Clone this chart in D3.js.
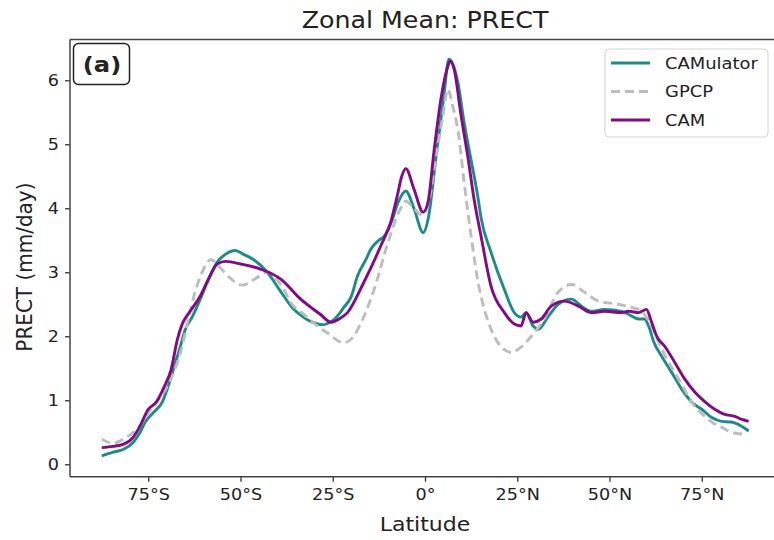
<!DOCTYPE html>
<html>
<head>
<meta charset="utf-8">
<script src="https://cdn.jsdelivr.net/npm/d3@7"></script>
<style>
  body { margin: 0; background: #fff; }
  text { font-family: "DejaVu Sans", sans-serif; fill: #222; }
</style>
</head>
<body>
<svg width="774" height="540"></svg>
<script>
// Zonal mean precipitation, [latitude, mm/day]
const camulator = [[-87.6,0.13],[-84.5,0.19],[-81.8,0.23],[-79.1,0.34],[-77.2,0.5],[-75.8,0.66],[-73.6,0.81],[-71.2,0.97],[-69.6,1.22],[-68.2,1.48],[-66.3,1.84],[-65,2.1],[-63,2.31],[-60.9,2.58],[-58.7,2.89],[-56.3,3.16],[-54.1,3.28],[-51.4,3.34],[-49.2,3.28],[-46.5,3.2],[-42.7,3.0],[-39,2.69],[-36,2.45],[-33,2.3],[-30.5,2.22],[-28,2.18],[-26.4,2.2],[-24.5,2.27],[-22,2.45],[-20,2.62],[-18.3,2.94],[-16,3.2],[-14.7,3.36],[-12.5,3.5],[-11.1,3.56],[-9,3.8],[-7.3,4.09],[-5.2,4.27],[-3,4.0],[-0.5,3.62],[1,3.88],[3,4.81],[5,5.7],[6.5,6.33],[8.9,5.97],[10.6,5.34],[12.5,4.75],[14.4,4.15],[15.2,3.85],[17.9,3.31],[21.5,2.73],[24.2,2.37],[26,2.3],[27.4,2.37],[29.3,2.16],[30.7,2.11],[33.4,2.31],[36.1,2.5],[39.7,2.58],[42.4,2.47],[45.1,2.39],[48.6,2.42],[53.3,2.39],[55.2,2.34],[57.9,2.27],[59.5,2.27],[60.6,2.16],[62,1.91],[64.1,1.69],[66.8,1.44],[69.6,1.17],[72.3,0.97],[75,0.86],[77.7,0.73],[80.4,0.67],[83,0.66],[85.9,0.59],[87.7,0.52]];

const gpcp = [[-87.6,0.39],[-84.5,0.33],[-81,0.42],[-79,0.5],[-77,0.62],[-75,0.8],[-72.5,1.0],[-70,1.2],[-68,1.45],[-66,1.8],[-64,2.3],[-62,2.75],[-60,3.05],[-58,3.2],[-56,3.1],[-53,2.92],[-49.5,2.8],[-46,2.9],[-42.7,3.0],[-39,2.8],[-36,2.5],[-33,2.35],[-30,2.2],[-26.4,2.05],[-22,1.9],[-19.3,2.0],[-17.4,2.2],[-13.8,2.73],[-10,3.47],[-7,3.95],[-5.2,4.11],[-3,4.0],[-1,3.9],[1,4.1],[3,4.8],[5,5.5],[6.2,5.86],[7.5,5.6],[9,5.19],[10.6,4.41],[12.5,3.56],[14.4,2.84],[15.5,2.55],[17.9,2.11],[20.7,1.83],[23.4,1.75],[26,1.83],[28.8,2.0],[32.3,2.27],[36.1,2.69],[39.7,2.81],[43.2,2.69],[47,2.55],[52.4,2.5],[56,2.45],[58.7,2.39],[61,2.2],[63,1.95],[65,1.7],[68,1.4],[70,1.2],[72.5,0.95],[75.8,0.75],[78,0.65],[80.4,0.58],[83,0.5],[86.7,0.47]];

const cam = [[-87.6,0.26],[-84.5,0.28],[-81.8,0.31],[-79.1,0.42],[-77.2,0.6],[-75,0.86],[-72.8,0.97],[-70.6,1.22],[-68.8,1.48],[-67.1,1.95],[-65.8,2.19],[-63.9,2.37],[-60.9,2.63],[-58.7,2.89],[-56.3,3.13],[-54,3.17],[-50,3.13],[-44.6,3.05],[-39,2.89],[-33.7,2.58],[-28.3,2.34],[-25.5,2.22],[-23,2.28],[-21,2.37],[-16.6,2.84],[-12,3.41],[-9.2,3.8],[-7.5,4.2],[-6.3,4.5],[-5.2,4.62],[-3,4.3],[-0.5,3.94],[0.8,4.09],[2.5,4.92],[4.3,5.7],[6.2,6.22],[6.8,6.3],[7.9,6.17],[9.8,5.44],[11.7,4.77],[13.3,4.14],[15.2,3.56],[17.9,2.78],[21.5,2.37],[24.2,2.19],[26,2.16],[27.4,2.37],[29.3,2.22],[31.5,2.27],[34.2,2.47],[37.8,2.55],[41.6,2.47],[45.1,2.37],[48.6,2.39],[53.3,2.37],[55.2,2.39],[57.9,2.37],[60,2.42],[61.4,2.22],[62.8,2.0],[65,1.84],[67.7,1.59],[70.4,1.33],[73.1,1.13],[75.8,0.98],[78.5,0.86],[81.2,0.78],[84,0.75],[85.9,0.7],[87.7,0.67]];

const seriesNames = ["CAMulator", "GPCP", "CAM"];
const xTicks = [-75, -50, -25, 0, 25, 50, 75];
const xTickLabels = ["75°S", "50°S", "25°S", "0°", "25°N", "50°N", "75°N"];
const yTicks = [0, 1, 2, 3, 4, 5, 6];

const svg = d3.select("svg");

// axes box (right side runs past the picture edge, as in the original)
const plotLeft = 70, plotRight = 780, plotTop = 39.5, plotBottom = 476.7;
const sx = 1.1; // the original figure's text is a little wide

const x = d3.scaleLinear().domain([-96.2, 96.2]).range([plotLeft, plotRight]);
const y = d3.scaleLinear().domain([-0.194, 6.637]).range([plotBottom, plotTop]);

const styles = {
  CAMulator: { color: "#1f8a8a", dash: null, data: camulator },
  GPCP: { color: "#bdbdbd", dash: "9,5", data: gpcp },
  CAM: { color: "#820a84", dash: null, data: cam }
};

const line = d3.line()
  .x(d => x(d[0]))
  .y(d => y(d[1]))
  .curve(d3.curveMonotoneX);

seriesNames.forEach(name => {
  const s = styles[name];
  svg.append("path")
    .datum(s.data)
    .attr("d", line)
    .attr("fill", "none")
    .attr("stroke", s.color)
    .attr("stroke-width", 2.9)
    .attr("stroke-dasharray", s.dash)
    .attr("stroke-linejoin", "round");
});

// x axis
const xAxis = svg.append("g")
  .attr("transform", `translate(0,${plotBottom})`)
  .call(d3.axisBottom(x).tickValues(xTicks).tickFormat((d, i) => xTickLabels[i]).tickSize(5).tickPadding(7));
xAxis.selectAll("text").style("font-size", "16px").attr("fill", "#222")
  .attr("transform", `scale(${sx},1)`);

// y axis
const yAxis = svg.append("g")
  .attr("transform", `translate(${plotLeft},0)`)
  .call(d3.axisLeft(y).tickValues(yTicks).tickFormat(d3.format("d")).tickSize(5).tickPadding(5));
yAxis.selectAll("text").style("font-size", "16px").attr("fill", "#222")
  .attr("transform", `scale(${sx},1)`);

svg.selectAll(".domain").remove();
svg.selectAll(".tick line").attr("stroke", "#333").attr("stroke-width", 1.3);

// spines
svg.append("line").attr("x1", plotLeft).attr("x2", plotLeft).attr("y1", plotTop).attr("y2", plotBottom)
  .attr("stroke", "#444").attr("stroke-width", 1.5);
svg.append("line").attr("x1", plotLeft).attr("x2", plotRight).attr("y1", plotBottom).attr("y2", plotBottom)
  .attr("stroke", "#444").attr("stroke-width", 1.5);
svg.append("line").attr("x1", plotLeft).attr("x2", plotRight).attr("y1", plotTop).attr("y2", plotTop)
  .attr("stroke", "#444").attr("stroke-width", 1.5);

// title and labels
svg.append("text")
  .attr("transform", `translate(${(plotLeft + plotRight) / 2},28) scale(${sx},1)`)
  .attr("text-anchor", "middle")
  .style("font-size", "23px")
  .text("Zonal Mean: PRECT");

svg.append("text")
  .attr("transform", `translate(${(plotLeft + plotRight) / 2},531) scale(${sx},1)`)
  .attr("text-anchor", "middle")
  .style("font-size", "20px")
  .text("Latitude");

svg.append("text")
  .attr("transform", `translate(32,${(plotTop + plotBottom) / 2 + 9}) scale(${sx},1) rotate(-90)`)
  .attr("text-anchor", "middle")
  .style("font-size", "20px")
  .text("PRECT (mm/day)");

// panel label
svg.append("rect")
  .attr("x", 73.5).attr("y", 43.5).attr("width", 56).attr("height", 41)
  .attr("rx", 5)
  .attr("fill", "white").attr("stroke", "#222").attr("stroke-width", 1.5);
svg.append("text")
  .attr("transform", `translate(102,71.5) scale(${sx},1)`)
  .attr("text-anchor", "middle")
  .style("font-size", "22px").style("font-weight", "bold")
  .text("(a)");

// legend
const legend = svg.append("g").attr("transform", "translate(605,49)");
legend.append("rect")
  .attr("width", 163).attr("height", 88).attr("rx", 4)
  .attr("fill", "white").attr("fill-opacity", 0.8)
  .attr("stroke", "#d4d4d4").attr("stroke-width", 1);

const items = legend.selectAll(".legend-item")
  .data(seriesNames)
  .join("g")
  .attr("class", "legend-item")
  .attr("transform", (d, i) => `translate(0,${14 + i * 28.5})`);

items.append("line")
  .attr("x1", 6).attr("x2", 45)
  .attr("stroke", d => styles[d].color)
  .attr("stroke-width", 2.9)
  .attr("stroke-dasharray", d => styles[d].dash);

items.append("text")
  .attr("transform", `translate(60,0) scale(${sx},1)`)
  .attr("dy", "0.35em")
  .style("font-size", "16.3px")
  .text(d => d);
</script>
</body>
</html>
